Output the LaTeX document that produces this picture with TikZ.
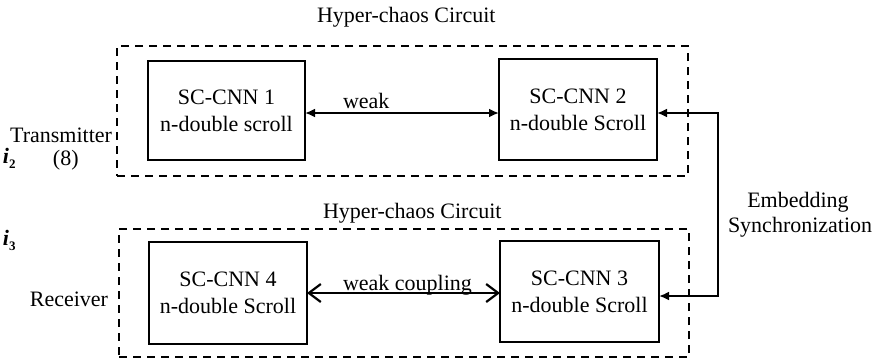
\documentclass[tikz,border=0pt]{standalone}
\usepackage{fontspec}
\setmainfont{Liberation Serif}
\usetikzlibrary{arrows.meta}
\begin{document}
\begin{tikzpicture}[x=0.5pt,y=-0.5pt,
  every node/.style={font=\fontsize{11}{13.5}\selectfont, inner sep=0pt, outer sep=0pt},
  scbox/.style={draw, line width=1.4pt, align=center, minimum width=#1},
  dbox/.style={draw, line width=1pt, dash pattern=on 4pt off 3pt},
  txt/.style={anchor=base west},
  link/.style={line width=1.1pt},
]
\useasboundingbox (0,0) rectangle (878,360);

% dashed enclosures
\node[dbox, minimum width=285.5pt, minimum height=65pt] (top) at (402.5,111) {};
\node[dbox, minimum width=285pt, minimum height=64pt] (bot) at (404,293) {};

% blocks
\node[scbox=78.5pt, minimum height=49.5pt] (b1) at (226.5,110.5) {SC-CNN 1\\n-double scroll};
\node[scbox=79pt, minimum height=50.5pt] (b2) at (578,109.5) {SC-CNN 2\\n-double Scroll};
\node[scbox=79pt, minimum height=51pt] (b4) at (228,293) {SC-CNN 4\\n-double Scroll};
\node[scbox=79.5pt, minimum height=50.5pt] (b3) at (579.5,291.5) {SC-CNN 3\\n-double Scroll};

% titles and labels
\node[txt] (t1) at (317,22) {Hyper-chaos Circuit};
\node[txt] (t2) at (323,218) {Hyper-chaos Circuit};
\node[anchor=base east] (tx) at (112,142) {Transmitter};
\node[txt] (n8) at (53,165) {(8)};
\node[anchor=base east] (rx) at (108,306) {Receiver};
\node[txt] (i2) at (3,163) {\textbf{\textit{i}}\raisebox{-2.5pt}{\fontsize{6.5}{7}\selectfont\bfseries 2}};
\node[txt] (i3) at (3,245) {\textbf{\textit{i}}\raisebox{-2.5pt}{\fontsize{6.5}{7}\selectfont\bfseries 3}};
\node[anchor=base] (emb) at (798,207) {Embedding};
\node[txt] (syn) at (728,232) {Synchronization};

% weak coupling (top)
\draw[link, {Latex[length=5pt,width=4.5pt]}-{Latex[length=5pt,width=4.5pt]}]
  (b1.east |- 0,113) -- (b2.west |- 0,113);
\node[txt] (wk) at (343,108) {weak};

% embedding synchronization
\coordinate (c1) at (718,113);
\coordinate (c2) at (718,296);
\draw[link, {Latex[length=5pt,width=4.5pt]}-{Latex[length=5pt,width=4.5pt]}]
  (b2.east |- c1) -- (c1) -- (c2) -- (b3.east |- c2);

% weak coupling (bottom)
\node[txt] (wc) at (343,290) {weak coupling};
\draw[link, {Straight Barb[length=6pt,width=9pt]}-{Straight Barb[length=6pt,width=9pt]}]
  (b4.east |- 0,293) -- (b3.west |- 0,293);
\end{tikzpicture}
\end{document}
